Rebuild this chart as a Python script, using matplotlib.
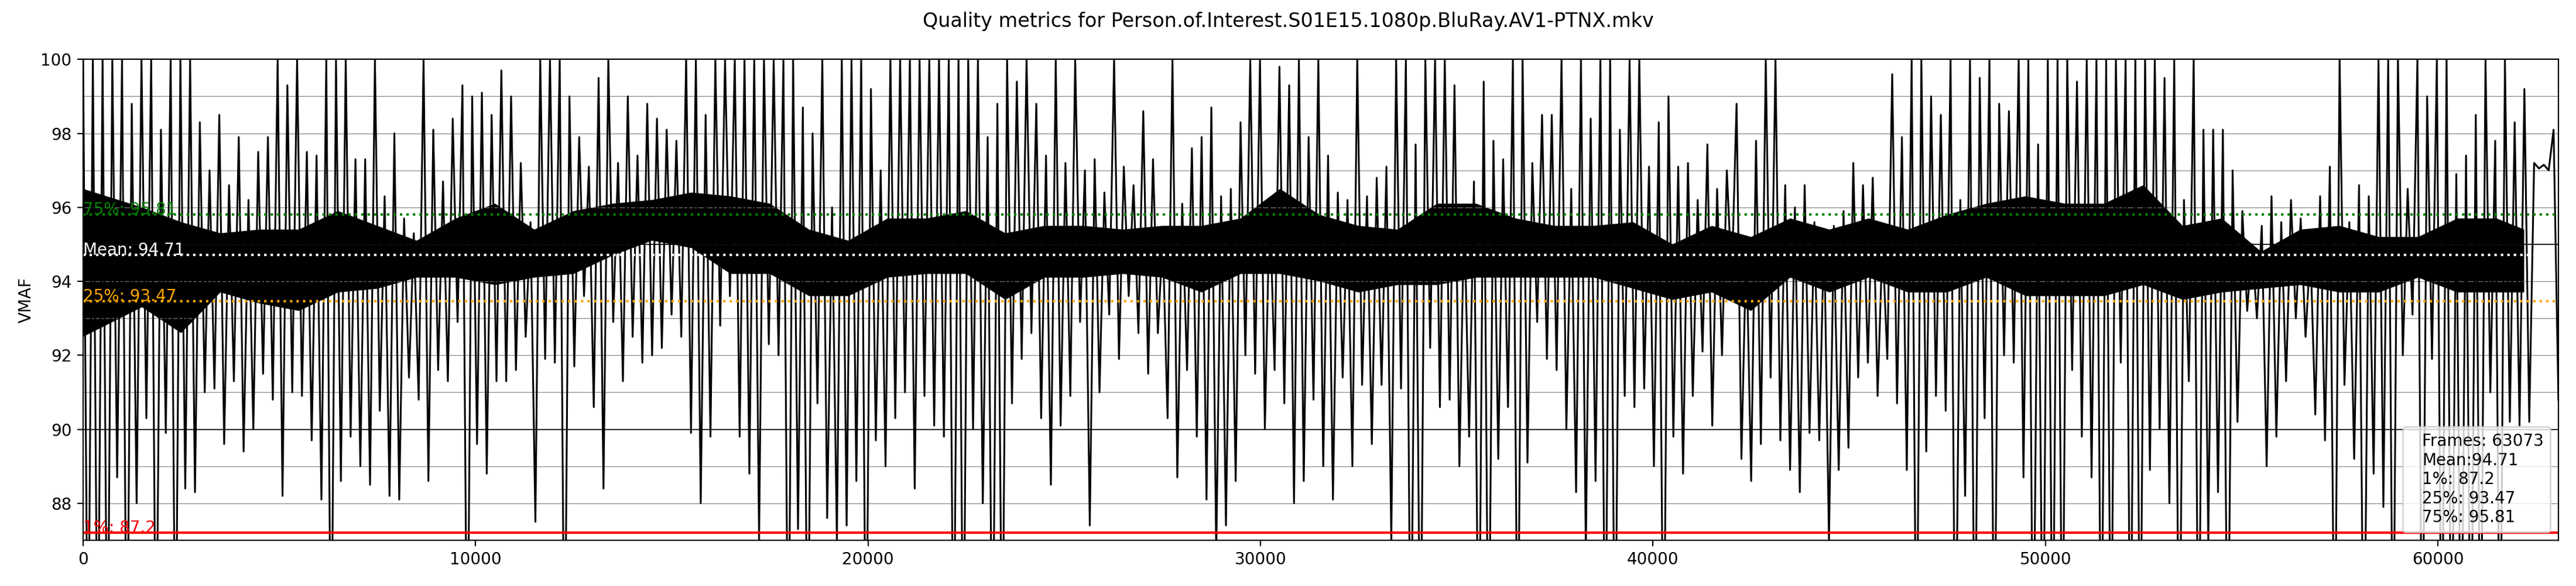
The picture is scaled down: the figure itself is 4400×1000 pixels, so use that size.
import numpy as np
import matplotlib
matplotlib.use("Agg")
import matplotlib.pyplot as plt

title = "Quality metrics for Person.of.Interest.S01E15.1080p.BluRay.AV1-PTNX.mkv"
n_frames = 63073
mean_v = 94.71
perc_1 = 87.2
perc_25 = 93.47
perc_75 = 95.81

# per ~250-frame bin: highest and lowest VMAF (82 = below axis)
vmaf_hi = [
    # 0 - 7650
    100, 100, 100, 100, 100, 98.8, 100, 100, 98.1, 100, 100, 100, 98.3, 97.0, 98.5, 96.6,
    97.9, 96.2, 97.5, 97.9, 100, 99.3, 100, 97.5, 97.4, 100, 100, 100, 97.3, 97.3, 100,
    # 7650 - 15575
    96.3, 98.0, 95.7, 95.3, 100, 98.1, 96.7, 98.4, 99.3, 99.0, 99.1, 98.5, 99.7, 99.0, 97.2, 95.6,
    100, 100, 100, 99.0, 97.9, 97.1, 99.5, 100, 97.2, 99.0, 97.4, 98.8, 98.4, 98.1, 97.8, 100,
    # 15575 - 23500
    100, 98.5, 100, 100, 100, 100, 100, 100, 100, 100, 100, 98.7, 98.0, 100, 96.0, 100,
    100, 100, 99.2, 97.0, 100, 100, 100, 100, 100, 100, 100, 100, 100, 100, 97.9, 98.8,
    # 23500 - 31420
    100, 99.4, 100, 98.8, 97.4, 100, 97.2, 100, 97.0, 97.3, 96.4, 100, 97.1, 96.6, 98.6, 97.3,
    95.2, 100, 96.1, 97.6, 97.9, 98.7, 96.3, 96.5, 98.3, 100, 100, 96.2, 99.8, 99.3, 100, 97.9,
    # 31420 - 39340
    100, 97.4, 96.4, 96.2, 100, 96.3, 96.8, 97.1, 100, 100, 97.7, 100, 100, 100, 99.3, 96.0,
    96.7, 99.4, 97.8, 97.3, 100, 100, 97.2, 98.5, 98.5, 100, 96.5, 100, 98.4, 100, 100, 98.1,
    # 39340 - 47260
    100, 100, 97.1, 98.3, 99.0, 97.1, 97.2, 96.2, 97.7, 96.5, 97.0, 98.8, 95.1, 97.8, 100, 100,
    96.6, 96.0, 96.6, 95.6, 95.4, 95.5, 95.9, 97.2, 96.6, 96.8, 95.1, 99.6, 97.9, 100, 100, 99.0,
    # 47260 - 55190
    98.5, 100, 96.2, 100, 99.5, 100, 98.8, 98.6, 100, 100, 97.7, 100, 100, 100, 99.4, 100,
    100, 100, 100, 100, 100, 100, 100, 99.5, 100, 96.2, 100, 98.1, 98.1, 98.1, 97.0, 95.9,
    # 55190 - 63073
    95.0, 95.5, 96.3, 95.6, 96.2, 95.7, 94.9, 96.3, 97.1, 100, 95.6, 96.6, 96.3, 100, 100, 100,
    96.5, 100, 99.0, 100, 100, 96.9, 97.4, 98.5, 100, 97.8, 100, 98.3, 99.2, 97.2, 97.15, 98.1,
]
vmaf_lo = [
    # 0 - 7650
    82, 82, 82, 88.7, 82, 88.0, 90.3, 82, 89.9, 82, 88.4, 88.3, 91.0, 91.1, 89.6, 91.3,
    89.4, 90.0, 91.5, 90.8, 88.2, 91.0, 90.9, 89.7, 88.1, 82, 88.6, 89.8, 89.0, 88.5, 90.5,
    # 7650 - 15575
    88.2, 88.1, 91.4, 90.8, 88.6, 91.6, 91.3, 92.9, 82, 89.6, 88.8, 91.3, 91.3, 91.6, 92.5, 87.5,
    91.9, 91.8, 82, 91.7, 93.6, 90.6, 88.4, 92.9, 91.3, 92.5, 91.8, 92.0, 92.2, 93.1, 92.5, 89.9,
    # 15575 - 23500
    88.0, 89.8, 92.8, 93.6, 89.8, 88.8, 87.0, 92.3, 92.0, 82, 87.3, 82, 90.7, 87.6, 87.0, 87.4,
    88.6, 82, 89.7, 89.0, 90.3, 91.0, 88.4, 90.9, 90.1, 89.8, 82, 82, 90.0, 88.0, 82, 82,
    # 23500 - 31420
    90.7, 91.9, 92.6, 90.3, 88.5, 90.1, 90.9, 92.9, 87.4, 91.0, 93.1, 91.9, 93.6, 92.6, 91.5, 92.6,
    90.3, 88.7, 91.6, 89.8, 88.1, 86.6, 87.4, 88.6, 92.0, 91.5, 90.0, 91.6, 90.7, 88.0, 88.6, 90.8,
    # 31420 - 39340
    89.0, 88.1, 91.4, 89.0, 91.2, 89.6, 91.2, 87.0, 91.1, 82, 82, 92.2, 90.6, 90.8, 89.0, 89.8,
    82, 82, 89.2, 90.6, 82, 89.1, 92.9, 91.9, 91.6, 90.0, 88.3, 86.7, 88.6, 82, 82, 90.9,
    # 39340 - 47260
    90.6, 91.1, 89.0, 82, 89.8, 88.8, 90.9, 92.1, 90.1, 92.0, 94.0, 89.2, 88.6, 89.6, 91.4, 89.7,
    88.9, 88.3, 89.9, 89.7, 87.0, 88.9, 89.5, 91.4, 91.8, 90.9, 91.9, 90.7, 88.9, 82, 89.4, 90.9,
    # 47260 - 55190
    90.5, 82, 88.2, 82, 90.3, 82, 92.0, 91.8, 88.7, 82, 82, 82, 82, 91.6, 89.8, 88.7,
    82, 82, 91.8, 82, 82, 88.9, 90.0, 88.0, 82, 91.3, 82, 87.0, 88.3, 82, 90.2, 93.2,
    # 55190 - 63073
    93.0, 89.0, 89.8, 91.3, 93.0, 92.5, 90.4, 89.7, 82, 91.2, 89.2, 82, 88.8, 87.9, 82, 92.0,
    93.1, 82, 91.9, 82, 82, 82, 82, 82, 91.0, 82, 90.2, 90.1, 90.2, 97.05, 97.0, 90.8,
]

# dense (solid black) band of the trace, read at ~1000-frame spacing
# (NaN where the trace is a thin plateau, so no band is drawn)
core_frame = [
    0, 1500, 2500, 3500, 4500, 5500, 6500, 7500, 8500, 9500, 10500, 11500, 12500,
    13500, 14500, 15500, 16500, 17500, 18500, 19500, 20500, 21500, 22500, 23500,
    24500, 25500, 26500, 27500, 28500, 29500, 30500, 31500, 32500, 33500, 34500,
    35500, 36500, 37500, 38500, 39500, 40500, 41500, 42500, 43500, 44500, 45500,
    46500, 47500, 48500, 49500, 50500, 51500, 52500, 53500, 54500, 55500, 56500,
    57500, 58500, 59500, 60500, 61500, 62200, 62600, 62950,
]
core_top = [
    96.5, 96.0, 95.6, 95.3, 95.4, 95.4, 95.9, 95.5, 95.1, 95.7, 96.1, 95.4, 95.9,
    96.1, 96.2, 96.4, 96.3, 96.1, 95.4, 95.1, 95.7, 95.7, 95.9, 95.3,
    95.5, 95.5, 95.4, 95.5, 95.5, 95.7, 96.5, 95.8, 95.5, 95.4, 96.1,
    96.1, 95.7, 95.5, 95.5, 95.6, 95.0, 95.5, 95.2, 95.7, 95.4, 95.7,
    95.4, 95.8, 96.1, 96.3, 96.1, 96.1, 96.6, 95.5, 95.7, 94.8, 95.4,
    95.5, 95.2, 95.2, 95.7, 95.7, 95.4, np.nan, 95.5,
]
core_bot = [
    92.5, 93.3, 92.6, 93.7, 93.4, 93.2, 93.7, 93.8, 94.1, 94.1, 93.9, 94.1, 94.2,
    94.7, 95.1, 94.9, 94.2, 94.2, 93.6, 93.6, 94.1, 94.2, 94.2, 93.5,
    94.1, 94.1, 94.2, 94.1, 93.7, 94.2, 94.2, 94.0, 93.7, 93.9, 93.9,
    94.1, 94.1, 94.1, 94.1, 93.8, 93.5, 93.7, 93.2, 94.1, 93.7, 94.1,
    93.7, 93.7, 94.1, 93.6, 93.6, 93.6, 93.9, 93.5, 93.7, 93.8, 93.9,
    93.7, 93.7, 94.1, 93.7, 93.7, 93.7, np.nan, 93.5,
]

# interleave high / low readings into one frame-ordered series
vmaf = np.column_stack([vmaf_hi, vmaf_lo]).ravel()
frames = np.linspace(0, n_frames - 1, len(vmaf))

fig = plt.figure(figsize=(22, 5), dpi=200)
ax = fig.add_axes([0.03227, 0.078, 0.96091, 0.8207])

for i in range(0, 100):
    ax.axhline(i, color="grey", linewidth=0.4)
for i in range(0, 100, 5):
    ax.axhline(i, color="black", linewidth=0.6)

ax.fill_between(core_frame, core_bot, core_top, color="black", linewidth=0)
ax.plot(frames, vmaf, color="black", linewidth=1.1,
        label=f"Frames: {n_frames}\nMean:{mean_v}\n1%: {perc_1} \n25%: {perc_25} \n75%: {perc_75}")

ax.axhline(perc_1, color="red", linewidth=1.5)
ax.text(0, perc_1, f"1%: {perc_1}", color="red", va="baseline", ha="left", fontsize=10)
ax.axhline(perc_25, color="orange", linestyle=":", linewidth=1.5)
ax.text(0, perc_25, f"25%: {perc_25}", color="orange", va="baseline", ha="left", fontsize=10)
ax.axhline(mean_v, color="white", linestyle=":", linewidth=1.5)
ax.text(0, mean_v, f"Mean: {mean_v}", color="white", va="baseline", ha="left", fontsize=10)
ax.axhline(perc_75, color="green", linestyle=":", linewidth=1.5)
ax.text(0, perc_75, f"75%: {perc_75}", color="green", va="baseline", ha="left", fontsize=10)

ax.set_ylabel("VMAF")
ax.legend(loc="lower right", markerscale=0, handlelength=0, fancybox=True)
ax.set_ylim(int(perc_1), 100)
ax.set_xlim(0, n_frames - 1)
fig.suptitle(title)

fig.savefig("out.png", dpi=200)
